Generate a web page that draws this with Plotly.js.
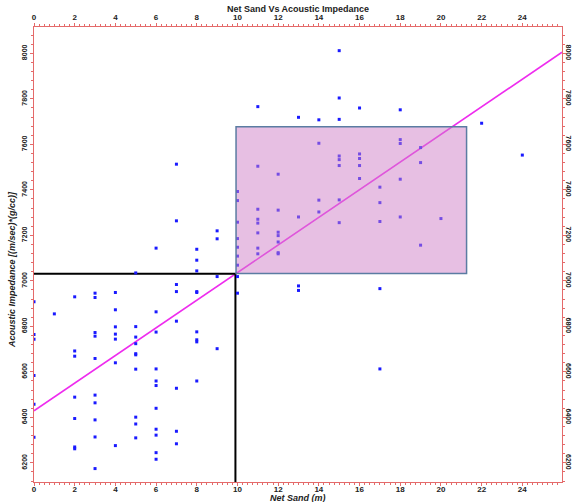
<!DOCTYPE html>
<html>
<head>
<meta charset="utf-8">
<script src="https://cdn.plot.ly/plotly-3.0.1.min.js"></script>
<style>html,body{margin:0;padding:0;background:#fff;}#chart{width:572px;height:502px;}</style>
</head>
<body>
<div id="chart"></div>
<script>
// Well data: net sand (m) vs acoustic impedance
const netSand = [
  0,0,0,0,0,0,
  1,
  2,2,2,2,2,2,2,
  3,3,3,3,3,3,3,3,3,3,
  4,4,4,4,4,4,4,
  5,5,5,5,5,5,5,5,5,5,
  6,6,6,6,6,6,6,6,6,6,6,
  7,7,7,7,7,7,7,7,
  8,8,8,8,8,8,8,8,8,
  9,9,9,9,
  10,10,10,10,10,10,10,10,10,
  11,11,11,11,11,11,11,11,
  12,12,12,12,12,12,12,
  13,13,13,13,
  14,14,14,14,
  15,15,15,15,15,15,15,15,
  16,16,16,16,16,
  17,17,17,17,17,
  18,18,18,18,18,
  19,19,19,
  20,
  22,
  24
];
const acousticImpedance = [
  6908,6764,6744,6584,6458,6313,
  6855,
  6930,6692,6669,6489,6395,6270,6262,
  6946,6927,6773,6757,6659,6498,6464,6389,6314,6175,
  6949,6873,6798,6766,6744,6640,6276,
  7035,6799,6753,6724,6680,6675,6612,6401,6371,6310,
  7144,6864,6775,6613,6560,6540,6440,6348,6322,6245,6216,
  7513,7264,6984,6953,6823,6528,6339,6284,
  7139,7091,7044,6953,6949,6776,6741,6732,6560,
  7220,7185,7019,6702,
  7393,7353,7258,7186,7148,7109,7069,7019,6946,
  7766,7504,7315,7271,7254,7211,7144,7119,
  7469,7311,7214,7199,7171,7124,7119,
  7719,7281,6978,6958,
  7708,7605,7355,7303,
  8012,7804,7710,7549,7533,7507,7356,7256,
  7760,7558,7538,7507,7450,
  7412,7344,7261,6966,6613,
  7752,7621,7604,7447,7281,
  7586,7520,7157,
  7274,
  7693,
  7553
];
// Regression trend line end points
const trendSand = [0, 25.95];
const trendAI = [6429, 8005];
// Cut-offs and sweet-spot window
const cutoffSand = 9.9;
const cutoffAI = 7031;
const windowSand = [9.93, 21.26];
const windowAI = [7032, 7678];
// Axis settings
const xRange = [0, 25.95];
const yRange = [6116, 8116];

const axisRed = '#e46a6a';
const tickFontX = {family: 'Arial, Liberation Sans, sans-serif', size: 8, color: '#222', weight: 'bold'};
const tickFontY = {family: 'Arial, Liberation Sans, sans-serif', size: 7, color: '#222', weight: 'bold'};

const traces = [
  {
    x: trendSand, y: trendAI, type: 'scatter', mode: 'lines',
    line: {color: '#ee2cee', width: 1.6}, hoverinfo: 'skip', showlegend: false
  },
  {
    x: [0, cutoffSand, cutoffSand], y: [cutoffAI, cutoffAI, yRange[0]],
    type: 'scatter', mode: 'lines',
    line: {color: '#000', width: 2}, hoverinfo: 'skip', showlegend: false
  },
  {
    x: netSand, y: acousticImpedance, type: 'scatter', mode: 'markers',
    marker: {symbol: 'square', size: 3, color: '#1a1aff', line: {width: 0}},
    showlegend: false
  },
  {
    x: [null], y: [null], xaxis: 'x2', yaxis: 'y2', type: 'scatter', mode: 'markers',
    showlegend: false, hoverinfo: 'skip'
  }
];

const baseX = {
  range: xRange, dtick: 2, tick0: 0, ticks: 'outside', ticklen: 3, tickcolor: axisRed,
  showline: true, linecolor: axisRed, linewidth: 1, showgrid: false, zeroline: false,
  tickfont: tickFontX,
  minor: {dtick: 0.25, ticks: 'outside', ticklen: 2, tickcolor: axisRed, showgrid: false}
};
const baseY = {
  range: yRange, dtick: 200, tick0: 6000, ticks: 'outside', ticklen: 3, tickcolor: axisRed,
  showline: true, linecolor: axisRed, linewidth: 1, showgrid: false, zeroline: false,
  tickfont: tickFontY,
  minor: {dtick: 40, ticks: 'outside', ticklen: 2, tickcolor: axisRed, showgrid: false}
};

const layout = {
  width: 572, height: 502,
  margin: {l: 34, r: 10, t: 27, b: 20, pad: 0},
  paper_bgcolor: '#fff', plot_bgcolor: '#fff',
  showlegend: false,
  title: {
    text: '<b>Net Sand Vs Acoustic Impedance</b>',
    font: {family: 'Arial, Liberation Sans, sans-serif', size: 9, color: '#222'},
    xref: 'paper', x: 0.5, xanchor: 'center',
    yref: 'container', y: 1 - 9 / 502, yanchor: 'middle'
  },
  xaxis: Object.assign({}, baseX, {side: 'bottom', anchor: 'y', ticklabelstandoff: -4}),
  xaxis2: Object.assign({}, baseX, {side: 'top', overlaying: 'x', matches: 'x', anchor: 'y'}),
  yaxis: Object.assign({}, baseY, {side: 'left', tickangle: -90, anchor: 'x'}),
  yaxis2: Object.assign({}, baseY, {side: 'right', overlaying: 'y', matches: 'y', tickangle: 90, anchor: 'x', ticklabelstandoff: -3}),
  shapes: [
    {
      type: 'rect', xref: 'x', yref: 'y',
      x0: windowSand[0], x1: windowSand[1], y0: windowAI[0], y1: windowAI[1],
      fillcolor: 'rgba(208,128,200,0.5)', line: {color: '#5b7ca2', width: 1.5}, layer: 'above'
    }
  ],
  annotations: [
    {
      text: '<b><i>Net Sand (m)</i></b>', xref: 'paper', yref: 'paper',
      x: 0.5, y: -15.5 / 455, xanchor: 'center', yanchor: 'middle', showarrow: false,
      font: {family: 'Arial, Liberation Sans, sans-serif', size: 9, color: '#222'}
    },
    {
      text: '<b><i>Acoustic Impedance [(m/sec)*(g/cc)]</i></b>', xref: 'paper', yref: 'paper',
      x: -22 / 528, y: 212 / 455, xanchor: 'center', yanchor: 'middle', textangle: -90, showarrow: false,
      font: {family: 'Arial, Liberation Sans, sans-serif', size: 9, color: '#222'}
    }
  ]
};

Plotly.newPlot('chart', traces, layout, {displayModeBar: false, staticPlot: true});
</script>
</body>
</html>
